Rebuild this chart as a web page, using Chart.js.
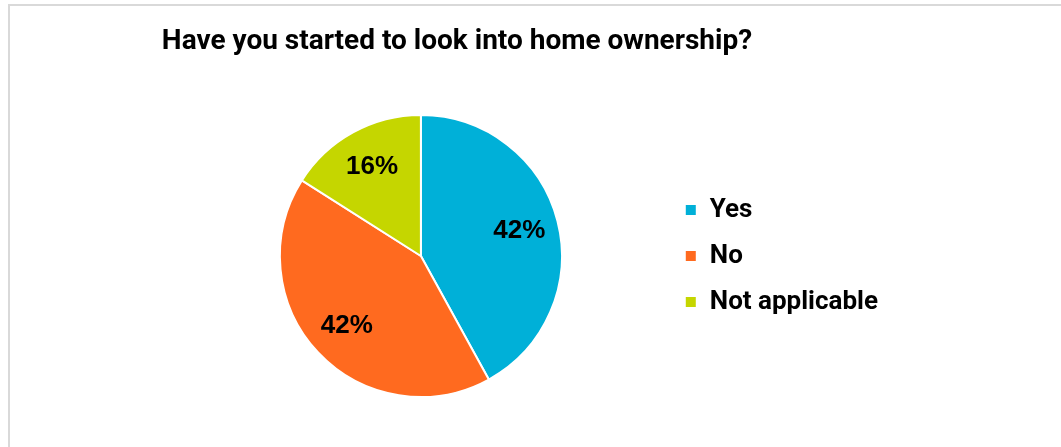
<!DOCTYPE html>
<html>
<head>
<meta charset="utf-8">
<title>Home ownership</title>
<script src="https://cdn.jsdelivr.net/npm/chart.js@4.4.1/dist/chart.umd.min.js"></script>
<style>
    html, body {
        margin: 0;
        padding: 0;
        background: #ffffff;
        overflow: hidden;
    }
    .frame {
        position: absolute;
        left: 8px;
        top: 4px;
        width: 1100px;
        height: 500px;
        border-top: 2px solid #d9d9d9;
        border-left: 2px solid #d9d9d9;
    }
    .chart-box {
        position: absolute;
        left: 0;
        top: 0;
        width: 1061px;
        height: 447px;
    }
</style>
</head>
<body>
<div class="frame"></div>
<div class="chart-box">
    <canvas id="ownershipChart" width="1061" height="447"></canvas>
</div>
<script>
const chartTitle = 'Have you started to look into home ownership?';
const answers = ['Yes', 'No', 'Not applicable'];
const shares = [42, 42, 16];
const sliceColors = ['#00b0d8', '#ff6a1f', '#c5d600'];

// Percent labels inside each slice, placed along the slice's mid angle
const sliceLabels = {
    id: 'sliceLabels',
    afterDatasetsDraw(chart) {
        const ctx = chart.ctx;
        const meta = chart.getDatasetMeta(0);
        const values = chart.data.datasets[0].data;
        ctx.save();
        ctx.font = 'bold 26px "Liberation Sans", Arial, sans-serif';
        ctx.fillStyle = '#000000';
        ctx.textAlign = 'center';
        ctx.textBaseline = 'middle';
        meta.data.forEach(function(arc, i) {
            const p = arc.getProps(['x', 'y', 'startAngle', 'endAngle', 'outerRadius'], true);
            const mid = (p.startAngle + p.endAngle) / 2;
            const r = p.outerRadius * 0.72;
            ctx.fillText(values[i] + '%', p.x + Math.cos(mid) * r, p.y + Math.sin(mid) * r);
        });
        ctx.restore();
    }
};

// Title sits left of the canvas centre, so it is drawn by hand
const headline = {
    id: 'headline',
    afterDraw(chart) {
        const ctx = chart.ctx;
        ctx.save();
        ctx.font = 'bold 28px Roboto, sans-serif';
        ctx.fillStyle = '#000000';
        ctx.textAlign = 'center';
        ctx.textBaseline = 'alphabetic';
        ctx.fillText(chartTitle, 457, 49);
        ctx.restore();
    }
};

const ctx = document.getElementById('ownershipChart').getContext('2d');
new Chart(ctx, {
    type: 'pie',
    data: {
        labels: answers,
        datasets: [{
            data: shares,
            backgroundColor: sliceColors,
            borderColor: '#ffffff',
            borderWidth: 2
        }]
    },
    options: {
        responsive: false,
        animation: false,
        layout: {
            padding: { top: 114, bottom: 49, left: 177, right: 173 }
        },
        plugins: {
            legend: {
                position: 'right',
                labels: {
                    boxWidth: 12,
                    boxHeight: 12,
                    padding: 20,
                    color: '#000000',
                    font: { family: 'Roboto, sans-serif', size: 26, weight: 'bold' }
                }
            },
            title: { display: false },
            tooltip: { enabled: false }
        }
    },
    plugins: [sliceLabels, headline]
});
</script>
</body>
</html>
